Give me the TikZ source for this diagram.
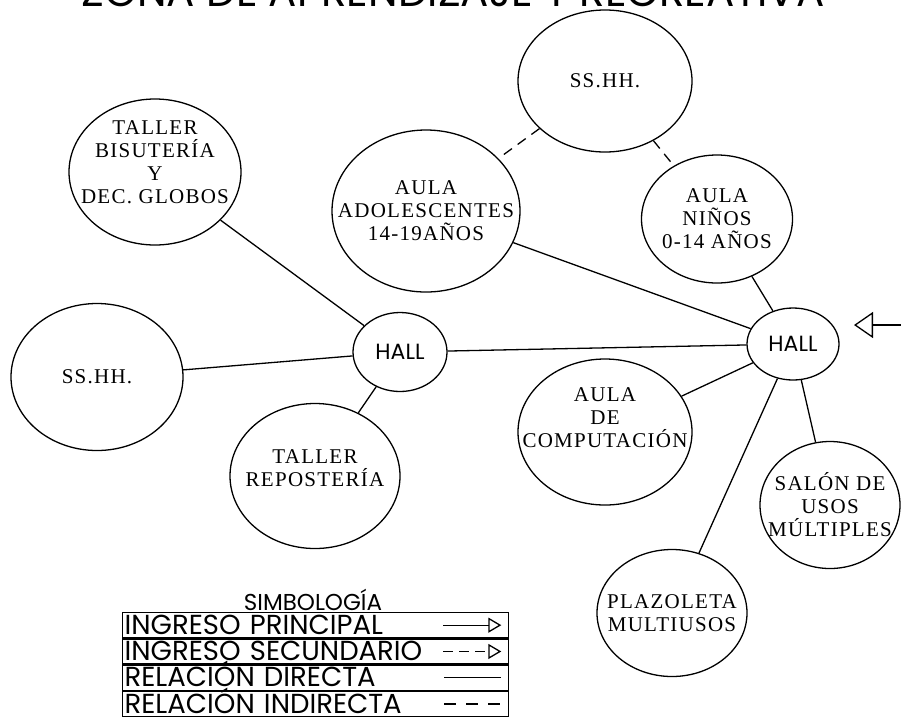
\documentclass[tikz,border=0pt]{standalone}
\usepackage{fontspec}
\usetikzlibrary{shapes.geometric,arrows.meta}
\newfontfamily\roomfont[LetterSpace=6]{Liberation Serif}
\newfontfamily\gothic{Poppins}
\tikzset{
  room/.style={draw, ellipse, line width=1.3pt, inner sep=0pt},
  roomtext/.style={font={\roomfont\fontsize{21}{23}\selectfont}, align=center, inner sep=0pt},
  hall/.style={draw, ellipse, line width=1.3pt, inner sep=0pt, font={\gothic\fontsize{22}{26}\selectfont}},
  rel/.style={draw, line width=1.3pt},
  relx/.style={draw, line width=1.3pt, dash pattern=on 10pt off 7pt},
  legrow/.style={draw, line width=1.3pt, anchor=north west, minimum width=386pt, minimum height=25pt,
    inner sep=1pt, text width=382pt, text height=19pt, text depth=1pt, align=left,
    font={\gothic\fontsize{27.5}{27.5}\selectfont}},
  ingreso/.style={line width=1.3pt, -{Triangle[open, length=13pt, width=15pt]}}
}

\begin{document}
\begin{tikzpicture}[x=1pt,y=-1pt]

\useasboundingbox (0,0) rectangle (901,716);

\node [anchor=base, font={\gothic\fontsize{42}{44}\selectfont}] (title) at (453,6) {ZONA DE APRENDIZAJE Y RECREATIVA};

\node [room, minimum width=174pt, minimum height=142pt, label={[roomtext]center:{SS.HH.}}] (sstop) at (605,81) {};
\node [room, minimum width=172pt, minimum height=146pt, label={[roomtext, yshift=10pt]center:{TALLER\\BISUTERÍA\\Y\\DEC. GLOBOS}}] (bisu) at (155,172) {};
\node [room, minimum width=188pt, minimum height=162pt, label={[roomtext]center:{AULA\\ADOLESCENTES\\14-19AÑOS}}] (adol) at (426,211) {};
\node [room, minimum width=151pt, minimum height=128pt, label={[roomtext]center:{AULA\\NIÑOS\\0-14 AÑOS}}] (ninos) at (717,219) {};
\node [room, minimum width=172pt, minimum height=147pt, label={[roomtext]center:{SS.HH.}}] (sshh) at (97,377) {};
\node [room, minimum width=170pt, minimum height=145pt, label={[roomtext, yshift=8pt]center:{TALLER\\REPOSTERÍA}}] (repo) at (315,476) {};
\node [room, minimum width=174pt, minimum height=146pt, label={[roomtext, yshift=14pt]center:{AULA\\DE\\COMPUTACIÓN}}] (comp) at (605,432) {};
\node [room, minimum width=140pt, minimum height=127pt, label={[roomtext]center:{SALÓN DE\\USOS\\MÚLTIPLES}}] (salon) at (830,505) {};
\node [room, minimum width=150pt, minimum height=127pt, label={[roomtext]center:{PLAZOLETA\\MULTIUSOS}}] (plaza) at (672,613) {};

\node [hall, minimum width=94pt, minimum height=79pt] (hallA) at (400,352) {HALL};
\node [hall, minimum width=92pt, minimum height=72pt] (hallB) at (793,344) {HALL};

\coordinate (entry) at (903,325);
\coordinate (door) at (854,325);

\path

(sstop)
edge [relx]
(adol)

(sstop)
edge [relx]
(ninos)

(bisu)
edge [rel]
(hallA)

(sshh)
edge [rel]
(hallA)

(repo)
edge [rel]
(hallA)

(hallA)
edge [rel]
(hallB)

(adol)
edge [rel]
(hallB)

(ninos)
edge [rel]
(hallB)

(comp)
edge [rel]
(hallB)

(salon)
edge [rel]
(hallB)

(plaza)
edge [rel]
(hallB)

;

\draw [line width=1.3pt, -{Triangle[open, length=19pt, width=26pt]}] (entry) -- (door);

\node [anchor=base, font={\gothic\fontsize{23}{23}\selectfont}] (simb) at (313,610) {SIMBOLOGÍA};
\node [legrow] (ingA) at (122,612) {INGRESO PRINCIPAL};
\node [legrow] (ingB) at (ingA.south west) {INGRESO SECUNDARIO};
\node [legrow] (relA) at (ingB.south west) {RELACIÓN DIRECTA};
\node [legrow] (relB) at (relA.south west) {RELACIÓN INDIRECTA};

\draw [ingreso] ([xshift=-66pt]ingA.east) -- ([xshift=-8pt]ingA.east);
\draw [ingreso, dash pattern=on 10pt off 6pt] ([xshift=-66pt]ingB.east) -- ([xshift=-8pt]ingB.east);
\draw [line width=1.3pt] ([xshift=-65pt]relA.east) -- ([xshift=-8pt]relA.east);
\draw [line width=1.3pt, dash pattern=on 12pt off 10pt] ([xshift=-65pt]relB.east) -- ([xshift=-8pt]relB.east);

\end{tikzpicture}
\end{document}
